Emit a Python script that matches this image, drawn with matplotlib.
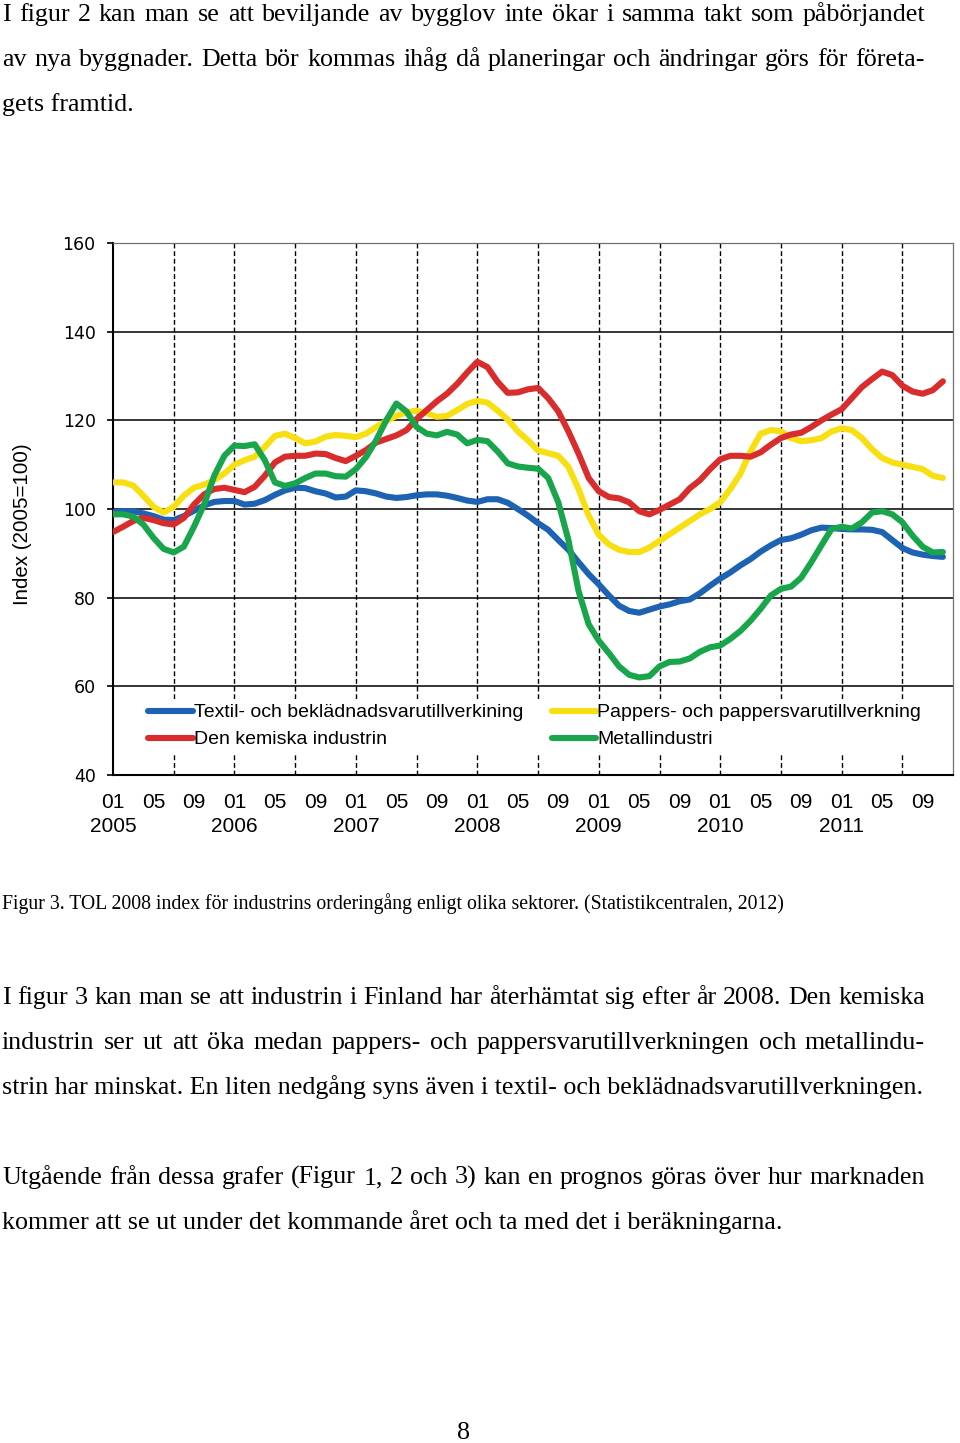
import numpy as np
import matplotlib
matplotlib.use("Agg")
import matplotlib.pyplot as plt

# page size in pixels (dpi 100)
W, H = 960, 1443

# ---- chart data: monthly index values, Jan 2005 .. Nov 2011 ----
textil = [99.3, 99.5, 99.5, 99.0, 98.4, 97.6, 97.5, 98.4, 99.6, 100.8, 101.6, 101.8,
          101.8, 101.0, 101.2, 102.0, 103.2, 104.2, 104.8, 104.7, 104.0, 103.5, 102.6, 102.8,
          104.2, 104.0, 103.5, 102.8, 102.5, 102.7, 103.1, 103.3, 103.3, 103.0, 102.5, 101.9,
          101.6, 102.2, 102.2, 101.4, 100.0, 98.5, 96.8, 95.3, 93.0, 90.8, 88.0, 85.3,
          83.0, 80.5, 78.2, 77.0, 76.6, 77.3, 78.0, 78.5, 79.2, 79.6, 81.0, 82.7,
          84.3, 85.7, 87.3, 88.7, 90.4, 91.8, 93.0, 93.4, 94.2, 95.2, 95.8, 95.7,
          95.5, 95.4, 95.4, 95.3, 94.8, 93.0, 91.2, 90.2, 89.7, 89.4, 89.2]
kemiska = [94.8, 96.0, 97.3, 98.0, 97.5, 96.8, 96.5, 98.0, 101.0, 103.3, 104.5, 104.8,
           104.3, 103.8, 105.0, 107.5, 110.5, 111.8, 112.0, 112.0, 112.5, 112.4, 111.5, 110.8,
           112.0, 113.3, 115.0, 115.8, 116.6, 117.8, 120.3, 122.3, 124.3, 126.0, 128.2, 130.8,
           133.2, 132.0, 128.7, 126.2, 126.3, 127.0, 127.3, 125.0, 122.0, 117.5, 112.5, 107.0,
           104.0, 102.7, 102.4, 101.5, 99.5, 98.8, 99.8, 101.0, 102.2, 104.7, 106.5, 109.0,
           111.2, 112.0, 112.0, 111.8, 112.8, 114.5, 116.0, 116.8, 117.2, 118.5, 120.0, 121.3,
           122.5, 125.0, 127.5, 129.3, 131.0, 130.2, 127.8, 126.5, 126.0, 126.8, 128.8]
pappers = [106.0, 106.0, 105.3, 103.0, 100.5, 99.2, 100.5, 103.0, 104.8, 105.5, 106.5, 108.0,
           110.0, 111.0, 111.8, 114.0, 116.5, 117.0, 116.0, 114.8, 115.2, 116.3, 116.7, 116.5,
           116.2, 117.0, 118.5, 119.8, 121.0, 121.8, 122.2, 121.6, 120.8, 121.0, 122.3, 123.7,
           124.4, 124.0, 122.2, 120.2, 117.5, 115.5, 113.2, 112.6, 112.0, 109.5, 104.5, 98.5,
           94.2, 92.0, 90.8, 90.3, 90.3, 91.3, 92.8, 94.3, 95.8, 97.3, 98.8, 100.0,
           101.5, 104.5, 108.0, 113.0, 117.0, 117.8, 117.5, 116.0, 115.3, 115.5, 116.0, 117.5,
           118.2, 117.8, 116.0, 113.5, 111.5, 110.5, 110.0, 109.5, 109.0, 107.5, 107.0]
metall = [98.8, 98.8, 98.3, 96.5, 93.5, 91.0, 90.2, 91.5, 96.0, 101.0, 107.5, 112.0,
          114.3, 114.2, 114.6, 111.0, 106.0, 105.2, 105.8, 107.0, 108.0, 108.0, 107.4, 107.3,
          109.0, 111.7, 115.5, 120.0, 123.8, 122.0, 118.5, 117.0, 116.6, 117.4, 116.8, 114.8,
          115.6, 115.3, 113.0, 110.3, 109.6, 109.3, 109.1, 107.0, 101.5, 93.0, 81.5, 74.0,
          70.3, 67.5, 64.5, 62.6, 62.0, 62.3, 64.5, 65.5, 65.6, 66.3, 67.8, 68.8,
          69.2, 70.7, 72.5, 74.8, 77.5, 80.5, 82.0, 82.5, 84.5, 88.0, 91.8, 95.5,
          96.0, 95.6, 97.0, 99.2, 99.5, 98.8, 97.0, 94.0, 91.5, 90.2, 90.3]

series_names = ["Textil- och beklädnadsvarutillverkining",
                "Den kemiska industrin",
                "Pappers- och pappersvarutillverkning",
                "Metallindustri"]
series_colors = ["#1e62b4", "#d92d2d", "#f7df12", "#19a54b"]

years = [2005, 2006, 2007, 2008, 2009, 2010, 2011]
month_labels = ["01", "05", "09"]
y_ticks = [40, 60, 80, 100, 120, 140, 160]
y_label = "Index (2005=100)"

# ---- page text ----
par1 = ["I figur 2 kan man se att beviljande av bygglov inte ökar i samma takt som påbörjandet",
        "av nya byggnader. Detta bör kommas ihåg då planeringar och ändringar görs för företa-",
        "gets framtid."]
caption = "Figur 3. TOL 2008 index för industrins orderingång enligt olika sektorer. (Statistikcentralen, 2012)"
par2 = ["I figur 3 kan man se att industrin i Finland har återhämtat sig efter år 2008. Den kemiska",
        "industrin ser ut att öka medan pappers- och pappersvarutillverkningen och metallindu-",
        "strin har minskat. En liten nedgång syns även i textil- och beklädnadsvarutillverkningen."]
par3 = ["Utgående från dessa grafer (Figur 1, 2 och 3) kan en prognos göras över hur marknaden",
        "kommer att se ut under det kommande året och ta med det i beräkningarna."]
page_number = "8"

BODY_FONT = "Liberation Serif"
CHART_FONT = "Liberation Sans"
BODY_SIZE = 18.7


def fx(x):
    return x / W


def fy(y):
    return 1.0 - y / H


def textLine(fig, renderer, s, x0, y, size, x1=None):
    # plain line, or justified between x0 and x1 (pixels)
    if x1 is None:
        return fig.text(fx(x0), fy(y), s, fontsize=size, family=BODY_FONT,
                        ha="left", va="baseline")
    words = s.split(" ")
    items = [fig.text(0, fy(y), w, fontsize=size, family=BODY_FONT,
                      ha="left", va="baseline") for w in words]
    widths = [t.get_window_extent(renderer).width for t in items]
    gap = (x1 - x0 - sum(widths)) / (len(words) - 1)
    x = x0
    for t, w in zip(items, widths):
        t.set_x(fx(x))
        x += w + gap


def paragraph(fig, renderer, lines, y0, pitch=44.8, right=925):
    for i, line in enumerate(lines):
        last = i == len(lines) - 1
        textLine(fig, renderer, line, 2, y0 + i * pitch, BODY_SIZE,
                 None if last else right)


fig = plt.figure(figsize=(W / 100, H / 100), dpi=100)
renderer = fig.canvas.get_renderer()

# ---- chart ----
ax = fig.add_axes([113 / W, 1 - 775 / H, 840 / W, 532 / H])
months = np.arange(len(textil))
order = [0, 2, 1, 3]
all_series = [textil, kemiska, pappers, metall]
lines = {}
for i in order:
    lines[i], = ax.plot(months, all_series[i], color=series_colors[i], lw=4.4,
                        solid_capstyle="round", solid_joinstyle="round",
                        label=series_names[i], zorder=3)

ax.set_xlim(0, 83)
ax.set_ylim(40, 160)
ax.set_yticks(y_ticks)
ax.set_yticklabels([str(v) for v in y_ticks], family="DejaVu Sans", fontsize=12.5)

xt = np.arange(0, 81, 4)
xl = []
for m in xt:
    lab = month_labels[(m % 12) // 4]
    if m % 12 == 0:
        lab += "\n" + str(years[m // 12])
    xl.append(lab)
ax.set_xticks(xt)
ax.set_xticklabels(xl, family=CHART_FONT, fontsize=15, linespacing=1.35)
ax.tick_params(axis="x", length=0, pad=13)
ax.tick_params(axis="y", length=4.5, width=1.2, pad=8, direction="out")

for v in y_ticks[1:-1]:
    ax.axhline(v, color="black", lw=1.1, zorder=1)
for m in range(6, 83, 6):
    ax.axvline(m, color="black", lw=1.0, ls=(0, (3.5, 2)), zorder=1)

for side in ["left", "bottom"]:
    ax.spines[side].set_linewidth(1.5)
    ax.spines[side].set_color("black")
for side in ["top", "right"]:
    ax.spines[side].set_linewidth(0.9)
    ax.spines[side].set_color("#707070")

ax.set_ylabel(y_label, family=CHART_FONT, fontsize=14.8)
ax.yaxis.set_label_coords(-0.097, 0.472)

leg = ax.legend(handles=[lines[0], lines[1], lines[2], lines[3]], ncol=2,
                loc="upper left", bbox_to_anchor=(0.036, 0.143),
                prop={"family": CHART_FONT, "size": 14.0},
                handlelength=2.3, handletextpad=0.06, columnspacing=1.45,
                labelspacing=0.48, borderpad=0.25, borderaxespad=0,
                frameon=True, fancybox=False, framealpha=1.0)
leg.get_frame().set_edgecolor("white")
leg.get_frame().set_linewidth(0)
leg.set_zorder(5)

# ---- page text ----
paragraph(fig, renderer, par1, 21)

cap = fig.text(fx(2), fy(909), caption, fontsize=13, family=BODY_FONT,
               ha="left", va="baseline")
cw = cap.get_window_extent(renderer).width
cap.set_fontsize(13 * 779 / cw)

paragraph(fig, renderer, par2, 1004)
paragraph(fig, renderer, par3, 1184)

fig.text(fx(463), fy(1439), page_number, fontsize=BODY_SIZE, family=BODY_FONT,
         ha="center", va="baseline")

fig.savefig("out.png", dpi=100, facecolor="white")
